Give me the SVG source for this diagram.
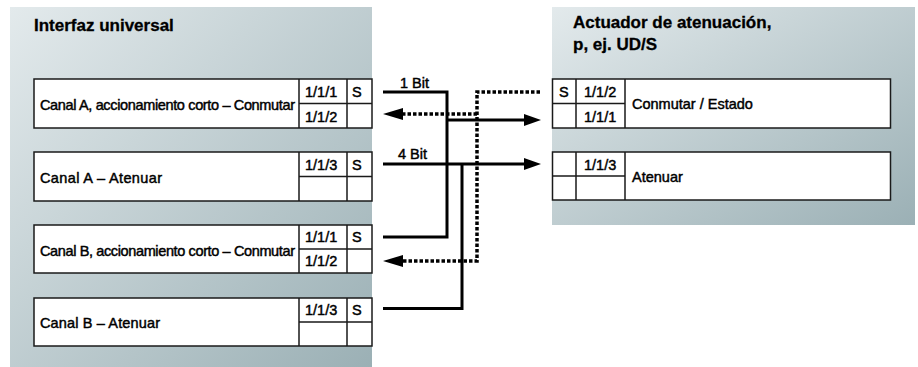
<svg xmlns="http://www.w3.org/2000/svg" width="918" height="367" viewBox="0 0 918 367">
<defs>
<linearGradient id="pg" x1="0" y1="0" x2="1" y2="1">
<stop offset="0" stop-color="#e3eaec"/>
<stop offset="1" stop-color="#9bb0b5"/>
</linearGradient>
<marker id="ah" markerUnits="userSpaceOnUse" markerWidth="18" markerHeight="13" refX="0" refY="6.5" orient="auto">
<path d="M0,0.5 L17,6.5 L0,12.5 z" fill="#000"/>
</marker>
<marker id="ahd" markerUnits="userSpaceOnUse" markerWidth="21" markerHeight="13" refX="0" refY="6.5" orient="auto">
<path d="M0,0.5 L20,6.5 L0,12.5 z" fill="#000"/>
</marker>
<style>
.panel{fill:url(#pg)}
.box{fill:#fff;stroke:#1a1a1a;stroke-width:1.5}
.ln{fill:none;stroke:#1a1a1a;stroke-width:1.5}
.t{font-family:'Liberation Sans',Arial,sans-serif;font-size:14.5px;fill:#000;stroke:#000;stroke-width:0.45}
.h{font-family:'Liberation Sans',Arial,sans-serif;font-size:17px;font-weight:bold;fill:#000;stroke:#000;stroke-width:0.3}
.w{fill:none;stroke:#000;stroke-width:3}
.d{fill:none;stroke:#000;stroke-width:3.5;stroke-dasharray:3.5 2}
</style>
</defs>

<g id="panel-left">
<rect class="panel" x="10" y="7" width="362" height="360"/>
<text class="h" x="34" y="31">Interfaz universal</text>
</g>
<g id="panel-right">
<rect class="panel" x="552" y="7" width="363" height="218"/>
<text class="h" x="573" y="28">Actuador de atenuación,</text>
<text class="h" x="573" y="50">p, ej. UD/S</text>
</g>

<g id="row-a-conmutar">
<rect class="box" x="34" y="79" width="338" height="49"/>
<path class="ln" d="M299,79 V128 M347,79 V128 M299,103.5 H372"/>
<text class="t" x="40" y="110" textLength="255" lengthAdjust="spacing">Canal A, accionamiento corto – Conmutar</text>
<text class="t" x="305" y="97">1/1/1</text>
<text class="t" x="352" y="97">S</text>
<text class="t" x="305" y="122">1/1/2</text>
</g>

<g id="row-a-atenuar">
<rect class="box" x="34" y="152" width="338" height="49"/>
<path class="ln" d="M299,152 V201 M347,152 V201 M299,176.5 H372"/>
<text class="t" x="40" y="183" textLength="122" lengthAdjust="spacing">Canal A – Atenuar</text>
<text class="t" x="305" y="170">1/1/3</text>
<text class="t" x="352" y="170">S</text>
</g>

<g id="row-b-conmutar">
<rect class="box" x="34" y="225" width="338" height="48"/>
<path class="ln" d="M299,225 V273 M347,225 V273 M299,249 H372"/>
<text class="t" x="40" y="256" textLength="255" lengthAdjust="spacing">Canal B, accionamiento corto – Conmutar</text>
<text class="t" x="305" y="242">1/1/1</text>
<text class="t" x="352" y="242">S</text>
<text class="t" x="305" y="266">1/1/2</text>
</g>

<g id="row-b-atenuar">
<rect class="box" x="34" y="298" width="338" height="48"/>
<path class="ln" d="M299,298 V346 M347,298 V346 M299,322 H372"/>
<text class="t" x="40" y="328" textLength="120" lengthAdjust="spacing">Canal B – Atenuar</text>
<text class="t" x="305" y="315">1/1/3</text>
<text class="t" x="352" y="315">S</text>
</g>

<g id="act-conmutar">
<rect class="box" x="552.5" y="79" width="338" height="49"/>
<path class="ln" d="M576,79 V128 M625,79 V128 M552.5,103.5 H625"/>
<text class="t" x="559" y="97">S</text>
<text class="t" x="584" y="97">1/1/2</text>
<text class="t" x="584" y="122">1/1/1</text>
<text class="t" x="632" y="109">Conmutar / Estado</text>
</g>

<g id="act-atenuar">
<rect class="box" x="552.5" y="152" width="338" height="48"/>
<path class="ln" d="M576,152 V200 M625,152 V200 M552.5,176 H625"/>
<text class="t" x="584" y="170">1/1/3</text>
<text class="t" x="632" y="182">Atenuar</text>
</g>

<g id="connectors">
<path class="w" d="M383,92 H447 V237 H383"/>
<path class="w" d="M447,120 H524" marker-end="url(#ah)"/>
<path class="w" d="M383,164 H524" marker-end="url(#ah)"/>
<path class="w" d="M462,164 V308.5 H383"/>
<path class="d" d="M540,92 H477 V261 H403" marker-end="url(#ahd)"/>
<path class="d" d="M477,114 H403" marker-end="url(#ahd)"/>
<text class="t" x="400" y="88">1 Bit</text>
<text class="t" x="398" y="159">4 Bit</text>
</g>
</svg>
